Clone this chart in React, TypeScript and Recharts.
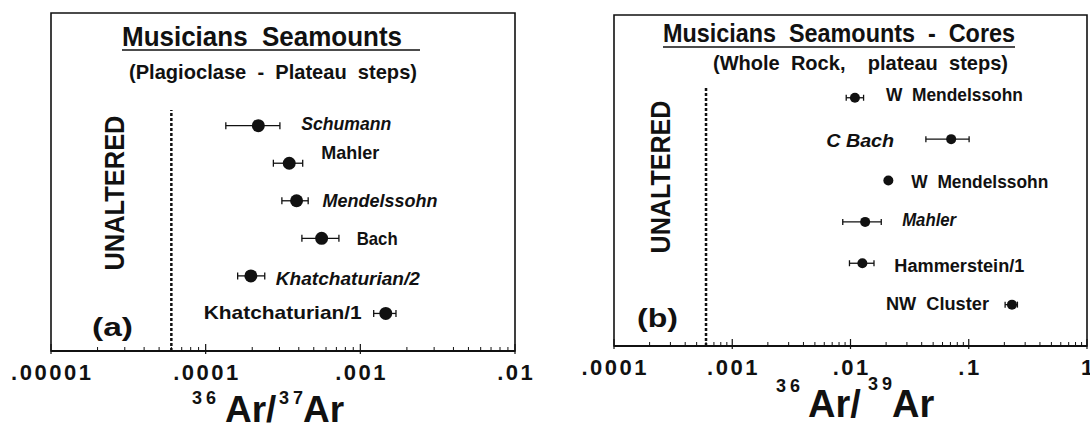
import React from "react";
import { ScatterChart, Scatter, XAxis, YAxis, ErrorBar, ReferenceLine, ReferenceArea } from "recharts";

const FONT = '"Liberation Sans", Arial, Helvetica, sans-serif';
const INK = "#111";

// (a) plagioclase plateau steps, 36Ar/37Ar
const plagNames = ["Schumann", "Mahler", "Mendelssohn", "Bach", "Khatchaturian/2", "Khatchaturian/1"];
const plagRatio = [2.19e-4, 3.47e-4, 3.87e-4, 5.62e-4, 1.96e-4, 1.46e-3];
const plagLow = [1.35e-4, 2.74e-4, 3.11e-4, 4.19e-4, 1.61e-4, 1.22e-3];
const plagHigh = [3.02e-4, 4.24e-4, 4.6e-4, 7.27e-4, 2.41e-4, 1.7e-3];
const plagRow = [6, 5, 4, 3, 2, 1];

// (b) cores, whole rock plateau steps, 36Ar/39Ar
const coreNames = ["W  Mendelssohn", "C Bach", "W  Mendelssohn", "Mahler", "Hammerstein/1", "NW  Cluster"];
const coreRatio = [0.0109, 0.071, 0.0209, 0.0133, 0.0126, 0.232];
const coreLow = [0.0092, 0.0434, 0.0209, 0.0086, 0.0098, 0.203];
const coreHigh = [0.0129, 0.1007, 0.0209, 0.0182, 0.0158, 0.258];
const coreRow = [6, 5, 4, 3, 2, 1];

const plagDecades = [1e-5, 1e-4, 1e-3, 1e-2];
const plagTickLabels = [".00001", ".0001", ".001", ".01"];
const coreDecades = [1e-4, 1e-3, 1e-2, 1e-1, 1];
const coreTickLabels = [".0001", ".001", ".01", ".1", "1"];

const plagUnaltered = 6e-5;
const coreUnaltered = 6e-4;

// label placement relative to the dot (px), kept apart from the data
const plagLabelLayout = [
  { dx: 43, dy: -3, anchor: "start", italic: true, w: 90 },
  { dx: 32, dy: -11, anchor: "start", italic: false, w: 58 },
  { dx: 26, dy: -1, anchor: "start", italic: true, w: 115 },
  { dx: 35, dy: 0, anchor: "start", italic: false, w: 41 },
  { dx: 25, dy: 2, anchor: "start", italic: true, w: 144 },
  { dx: -24, dy: -1, anchor: "end", italic: false, w: 158 },
];
const coreLabelLayout = [
  { dx: 31, dy: -3, anchor: "start", italic: false, w: 137 },
  { dx: -57, dy: 1, anchor: "end", italic: true, w: 68 },
  { dx: 23, dy: 1, anchor: "start", italic: false, w: 137 },
  { dx: 37, dy: -2, anchor: "start", italic: true, w: 54 },
  { dx: 32, dy: 2, anchor: "start", italic: false, w: 130 },
  { dx: -23, dy: -1, anchor: "end", italic: false, w: 103 },
];

const buildRows = (names: string[], ratio: number[], low: number[], high: number[], row: number[]) =>
  names.map((name, i) => ({
    i,
    name,
    ratio: ratio[i],
    row: row[i],
    err: [ratio[i] - low[i], high[i] - ratio[i]],
  }));

const plagData = buildRows(plagNames, plagRatio, plagLow, plagHigh, plagRow);
const coreData = buildRows(coreNames, coreRatio, coreLow, coreHigh, coreRow);

const logTicks = (decades: number[]) =>
  decades.flatMap((d, k) => (k === decades.length - 1 ? [d] : [1, 2, 3, 4, 5, 6, 7, 8, 9].map((m) => d * m)));

function LogTick(props: any) {
  const { x, y, payload, decades, labels } = props;
  const v = payload.value;
  const k = decades.findIndex((d: number) => Math.abs(d - v) / d < 1e-6);
  if (k < 0) {
    return <line x1={x} x2={x} y1={y} y2={y - 4} stroke={INK} strokeWidth={1} />;
  }
  return (
    <g>
      <line x1={x} x2={x} y1={y + 3} y2={y - 7} stroke={INK} strokeWidth={1.2} />
      <text
        x={x + 1.25}
        y={y + 29}
        textAnchor="middle"
        fontFamily={FONT}
        fontWeight="bold"
        fontSize={22}
        letterSpacing={2.5}
        fill={INK}
      >
        {labels[k]}
      </text>
    </g>
  );
}

interface PanelProps {
  data: any[];
  decades: number[];
  tickLabels: string[];
  yMax: number;
  unaltered: number;
  dashTop: number;
  margin: { top: number; right: number; bottom: number; left: number };
  dotR: number;
  cap: number;
  layout: any[];
  labelSize: number;
  left: number;
}

function Panel({ data, decades, tickLabels, yMax, unaltered, dashTop, margin, dotR, cap, layout, labelSize, left }: PanelProps) {
  const lo = decades[0];
  const hi = decades[decades.length - 1];
  return (
    <div style={{ position: "absolute", left, top: 0 }}>
      <ScatterChart width={545} height={430} margin={margin}>
        <XAxis
          type="number"
          dataKey="ratio"
          scale="log"
          domain={[lo, hi]}
          allowDataOverflow
          ticks={logTicks(decades)}
          interval={0}
          tickLine={false}
          tickSize={0}
          tickMargin={0}
          height={30}
          axisLine={{ stroke: INK, strokeWidth: 2 }}
          tick={(p: any) => <LogTick {...p} decades={decades} labels={tickLabels} />}
        />
        <YAxis type="number" dataKey="row" domain={[0, yMax]} hide width={0} />
        <ReferenceArea x1={lo} x2={hi} y1={0} y2={yMax} fill="none" stroke={INK} strokeWidth={1.6} />
        <ReferenceLine
          segment={[
            { x: unaltered, y: 0 },
            { x: unaltered, y: dashTop },
          ]}
          stroke={INK}
          strokeWidth={2.5}
          strokeDasharray="3 2"
        />
        <Scatter
          data={data}
          isAnimationActive={false}
          shape={(p: any) => {
            const l = layout[p.payload.i];
            return (
              <g>
                <circle cx={p.cx} cy={p.cy} r={dotR} fill={INK} />
                <text
                  x={p.cx + l.dx}
                  y={p.cy + l.dy + labelSize * 0.36}
                  textAnchor={l.anchor}
                  fontFamily={FONT}
                  fontWeight="bold"
                  fontStyle={l.italic ? "italic" : "normal"}
                  fontSize={labelSize}
                  textLength={l.w}
                  lengthAdjust="spacingAndGlyphs"
                  fill={INK}
                  style={{ whiteSpace: "pre" }}
                >
                  {p.payload.name}
                </text>
              </g>
            );
          }}
        >
          <ErrorBar dataKey="err" direction="x" width={cap} stroke={INK} strokeWidth={1.3} isAnimationActive={false} />
        </Scatter>
      </ScatterChart>
    </div>
  );
}

const txt = { fontFamily: FONT, fontWeight: "bold" as const, fill: INK, whiteSpace: "pre" as const };

export default function App() {
  return (
    <div style={{ position: "absolute", left: 0, top: 0, width: 1090, height: 430, background: "#fff", overflow: "hidden" }}>
      <Panel
        data={plagData}
        decades={plagDecades}
        tickLabels={plagTickLabels}
        yMax={9}
        unaltered={plagUnaltered}
        dashTop={6.42}
        margin={{ top: 13, right: 30, bottom: 49, left: 51 }}
        dotR={6.5}
        cap={3.5}
        layout={plagLabelLayout}
        labelSize={19}
        left={0}
      />
      <Panel
        data={coreData}
        decades={coreDecades}
        tickLabels={coreTickLabels}
        yMax={8}
        unaltered={coreUnaltered}
        dashTop={6.25}
        margin={{ top: 15, right: 3, bottom: 54, left: 69 }}
        dotR={5}
        cap={3}
        layout={coreLabelLayout}
        labelSize={18}
        left={545}
      />
      <svg width={1090} height={430} style={{ position: "absolute", left: 0, top: 0, pointerEvents: "none" }}>
        {/* panel (a) */}
        <text x={122} y={46} fontSize={28} textLength={280} lengthAdjust="spacingAndGlyphs" style={txt}>
          Musicians  Seamounts
        </text>
        <line x1={122} x2={420} y1={50} y2={50} stroke={INK} strokeWidth={1.5} />
        <text x={129} y={79} fontSize={21} textLength={288} lengthAdjust="spacingAndGlyphs" style={txt}>
          (Plagioclase  -  Plateau  steps)
        </text>
        <text
          x={0}
          y={0}
          fontSize={27}
          textAnchor="middle"
          textLength={155}
          lengthAdjust="spacingAndGlyphs"
          transform="translate(124 193) rotate(-90)"
          style={txt}
        >
          UNALTERED
        </text>
        <text x={92} y={336} fontSize={26} textLength={41} lengthAdjust="spacingAndGlyphs" style={txt}>
          (a)
        </text>
        <text style={txt}>
          <tspan x={192} y={404} fontSize={18} letterSpacing={4}>36</tspan>
          <tspan x={225} y={422} fontSize={37}>Ar/</tspan>
          <tspan x={279} y={404} fontSize={18} letterSpacing={4}>37</tspan>
          <tspan x={303} y={422} fontSize={37}>Ar</tspan>
        </text>

        {/* panel (b) */}
        <text x={663} y={42} fontSize={26} textLength={352} lengthAdjust="spacingAndGlyphs" style={txt}>
          Musicians  Seamounts  -  Cores
        </text>
        <line x1={663} x2={1015} y1={47} y2={47} stroke={INK} strokeWidth={1.5} />
        <text x={713} y={70} fontSize={21} textLength={295} lengthAdjust="spacingAndGlyphs" style={txt}>
          (Whole  Rock,    plateau  steps)
        </text>
        <text
          x={0}
          y={0}
          fontSize={27}
          textAnchor="middle"
          textLength={153}
          lengthAdjust="spacingAndGlyphs"
          transform="translate(670 177) rotate(-90)"
          style={txt}
        >
          UNALTERED
        </text>
        <text x={637} y={327} fontSize={26} textLength={41} lengthAdjust="spacingAndGlyphs" style={txt}>
          (b)
        </text>
        <text style={txt}>
          <tspan x={776} y={392} fontSize={18} letterSpacing={4}>36</tspan>
          <tspan x={808} y={417} fontSize={38}>Ar/</tspan>
          <tspan x={868} y={390} fontSize={18} letterSpacing={4}>39</tspan>
          <tspan x={892} y={417} fontSize={38}>Ar</tspan>
        </text>
      </svg>
    </div>
  );
}
